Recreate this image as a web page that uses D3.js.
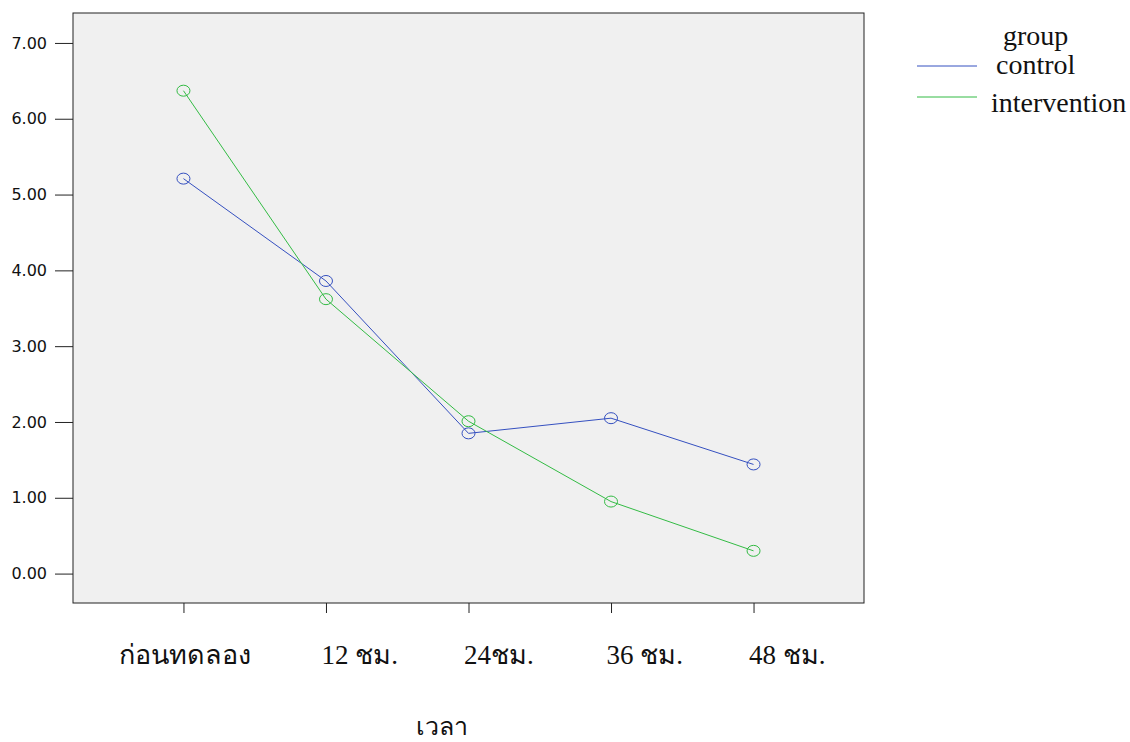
<!DOCTYPE html>
<html>
<head>
<meta charset="utf-8">
<script src="https://cdn.jsdelivr.net/npm/d3@7"></script>
<style>
  body { margin: 0; background: #fff; }
  svg { display: block; }
</style>
</head>
<body>
<svg></svg>
<script>
// ค่าเฉลี่ยตามเวลา
var categories = ["ก่อนทดลอง", "12 ชม.", "24ชม.", "36 ชม.", "48 ชม."]
var controlValues = [5.21, 3.86, 1.85, 2.05, 1.44]
var interventionValues = [6.37, 3.62, 2.01, 0.95, 0.30]
var yTicks = [0, 1, 2, 3, 4, 5, 6, 7]
var groupNames = ["control", "intervention"]
var groupColors = ["#3550c0", "#33bb44"]

var svg = d3.select("svg")
    .attr("width", 1130)
    .attr("height", 742)

var plot = {left: 73, right: 864, top: 13, bottom: 603}

var scX = d3.scalePoint()
    .domain(categories)
    .range([plot.left, plot.right])
    .padding(0.775)

var scY = d3.scaleLinear()
    .domain([-0.388, 7.395])
    .range([plot.bottom, plot.top])

// plot background
svg.append("rect")
    .attr("x", plot.left)
    .attr("y", plot.top)
    .attr("width", plot.right - plot.left)
    .attr("height", plot.bottom - plot.top)
    .attr("fill", "#f0f0f0")
    .attr("stroke", "#222")
    .attr("stroke-width", 1)

// y axis
var yAxis = d3.axisLeft(scY)
    .tickValues(yTicks)
    .tickFormat(d3.format(".2f"))
    .tickSize(18)
    .tickPadding(8)
var yAxisGroup = svg.append("g")
    .attr("transform", `translate(${plot.left}, 0)`)
    .call(yAxis)
yAxisGroup.select(".domain").remove()
yAxisGroup.selectAll("line").attr("stroke", "#222")
yAxisGroup.selectAll("text")
    .attr("font-family", "DejaVu Sans, sans-serif")
    .attr("font-size", 16)
    .attr("fill", "#111")

// x axis (labels sit a little right of the tick, like the original)
var xAxis = d3.axisBottom(scX)
    .tickSize(10)
    .tickPadding(32)
var xAxisGroup = svg.append("g")
    .attr("transform", `translate(0, ${plot.bottom})`)
    .call(xAxis)
xAxisGroup.select(".domain").remove()
xAxisGroup.selectAll("line").attr("stroke", "#222")
xAxisGroup.selectAll("text")
    .attr("font-family", "Liberation Serif, serif")
    .attr("font-size", 27)
    .attr("fill", "#111")
    .attr("text-anchor", (d, i) => i == 0 ? "end" : "start")
    .attr("x", (d, i) => i == 0 ? 67 : -5)

// axis title
svg.append("text")
    .attr("x", 442)
    .attr("y", 735)
    .attr("text-anchor", "middle")
    .attr("font-family", "Noto Sans, DejaVu Sans, sans-serif")
    .attr("font-size", 25)
    .attr("fill", "#111")
    .text("เวลา")

// lines + markers
var series = [controlValues, interventionValues]
var line = d3.line()
    .x((d, i) => scX(categories[i]))
    .y(d => scY(d))

series.forEach(function(vals, s) {
    svg.append("path")
        .datum(vals)
        .attr("d", line)
        .attr("fill", "none")
        .attr("stroke", groupColors[s])
        .attr("stroke-width", 1)
    svg.selectAll(".m" + s)
        .data(vals)
        .enter().append("ellipse")
        .attr("class", "m" + s)
        .attr("cx", (d, i) => scX(categories[i]))
        .attr("cy", d => scY(d))
        .attr("rx", 6.5)
        .attr("ry", 5.5)
        .attr("fill", "none")
        .attr("stroke", groupColors[s])
        .attr("stroke-width", 1)
})

// legend
var legend = svg.append("g")
    .attr("font-family", "Liberation Serif, serif")
    .attr("font-size", 28)
    .attr("fill", "#111")
legend.append("text")
    .attr("x", 1003)
    .attr("y", 45)
    .text("group")
groupNames.forEach(function(name, i) {
    var y = [66, 97][i]
    legend.append("line")
        .attr("x1", 917).attr("x2", 977)
        .attr("y1", y).attr("y2", y)
        .attr("stroke", groupColors[i])
        .attr("stroke-width", 1)
    legend.append("text")
        .attr("x", [996, 991][i])
        .attr("y", [74, 112][i])
        .text(name)
})
</script>
</body>
</html>
